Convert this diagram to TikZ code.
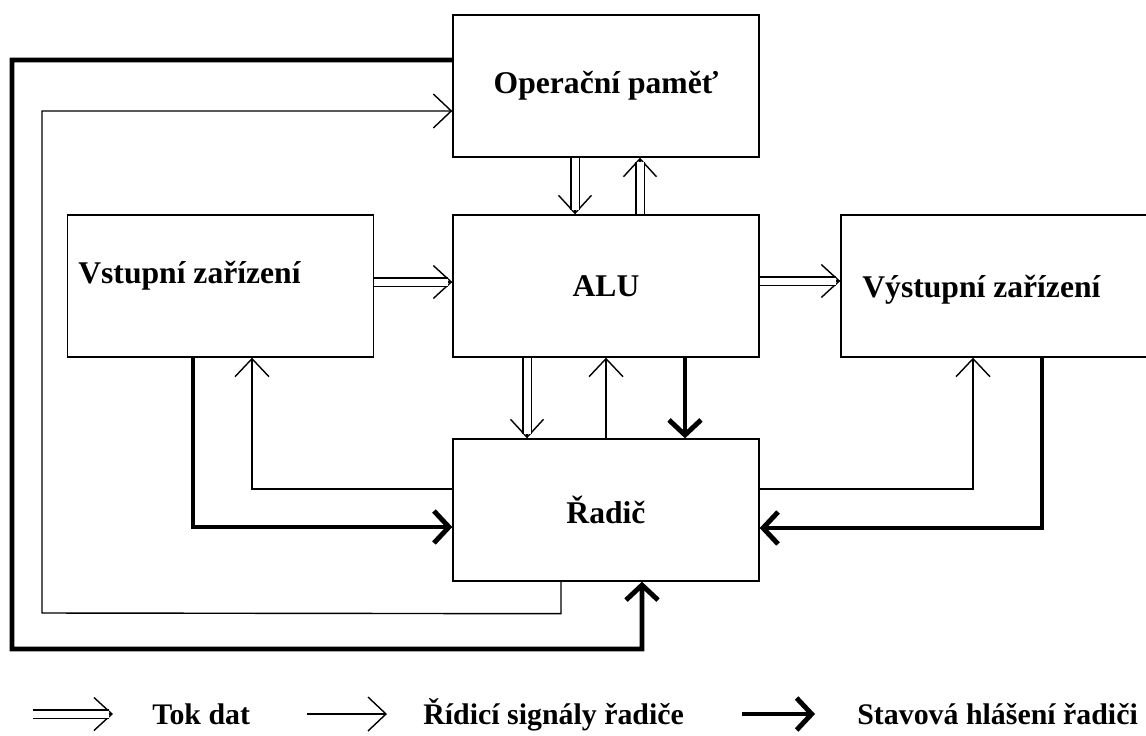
\documentclass[tikz,border=0pt]{standalone}
\usepackage{fontspec}
\setmainfont{Liberation Serif}
\usetikzlibrary{positioning,arrows.meta}

\begin{document}
\begin{tikzpicture}[
    x=0.02cm, y=-0.02cm,
    every node/.style={font=\bfseries\fontsize{18}{22}\selectfont},
    unit/.style={rectangle, draw, line width=0.8pt, minimum width=6.12cm, minimum height=2.84cm, inner sep=0pt},
    legend/.style={font=\bfseries\fontsize{17}{20}\selectfont, inner sep=0pt, anchor=base west},
    signal/.style={draw, line width=0.8pt, -{Straight Barb[length=0.36cm, width=0.68cm]}},
    status/.style={draw, line width=2.8pt, -{Straight Barb[length=0.3cm, width=0.64cm]}},
    dataflow/.style={draw, line width=0.8pt, -{Straight Barb[length=0.36cm, width=0.66cm]},
        postaction={draw, -, double, double distance=0.14cm, shorten >=0.08cm}}
]
\useasboundingbox (0,0) rectangle (1146,735);

% Units
\node[unit] (mem) at (606,86) {Operační paměť};
\node[unit] (alu) at (606,286) {ALU};
\node[unit] (ctrl) at (606,510) {Řadič};
\node[unit] (in) at (220.5,286) {};
\node[unit] (out) at (994,286) {};
\node[anchor=base west, inner sep=0pt] (intxt) at (78,283) {Vstupní zařízení};
\node[anchor=base west, inner sep=0pt] (outtxt) at (862,297) {Výstupní zařízení};

% Data flow
\draw[dataflow] ([yshift=0.08cm]in.east) -- ([yshift=0.08cm]alu.west);
\draw[dataflow] ([yshift=0.1cm]alu.east) -- ([yshift=0.1cm]out.west);
\draw[dataflow] ([xshift=-0.62cm]mem.south) -- ([xshift=-0.62cm]alu.north);
\draw[dataflow] ([xshift=0.68cm]alu.north) -- ([xshift=0.68cm]mem.south);
\draw[dataflow] ([xshift=-1.58cm]alu.south) -- ([xshift=-1.58cm]ctrl.north);

% Control signals
\draw[signal] (ctrl.north) -- (alu.south);
\draw[signal] ([xshift=-0.9cm]ctrl.south) -- ++(0,32) -- (42,613) |- ([yshift=-0.5cm]mem.west);
\draw[signal] ([yshift=0.42cm]ctrl.west) -| ([xshift=0.63cm]in.south);
\draw[signal] ([yshift=0.42cm]ctrl.east) -| ([xshift=-0.42cm]out.south);

% Status reports
\draw[status] ([xshift=1.58cm]alu.south) -- ([xshift=1.58cm]ctrl.north);
\draw[status] ([yshift=0.52cm]mem.west) -- (12,60) -- (12,649) -| ([xshift=0.72cm]ctrl.south);
\draw[status] ([xshift=-0.55cm]in.south) |- ([yshift=-0.34cm]ctrl.west);
\draw[status] ([xshift=0.96cm]out.south) |- ([yshift=-0.36cm]ctrl.east);

% Legend
\node[legend] (lgdata) at (152,724) {Tok dat};
\node[legend] (lgsignal) at (423,724) {Řídicí signály řadiče};
\node[legend] (lgstatus) at (857,724) {Stavová hlášení řadiči};
\draw[dataflow] ([shift={(-2.38cm,0.2cm)}]lgdata.base west) -- ([shift={(-0.78cm,0.2cm)}]lgdata.base west);
\draw[signal] ([shift={(-2.32cm,0.2cm)}]lgsignal.base west) -- ([shift={(-0.72cm,0.2cm)}]lgsignal.base west);
\draw[status] ([shift={(-2.3cm,0.2cm)}]lgstatus.base west) -- ([shift={(-0.84cm,0.2cm)}]lgstatus.base west);

\end{tikzpicture}
\end{document}
